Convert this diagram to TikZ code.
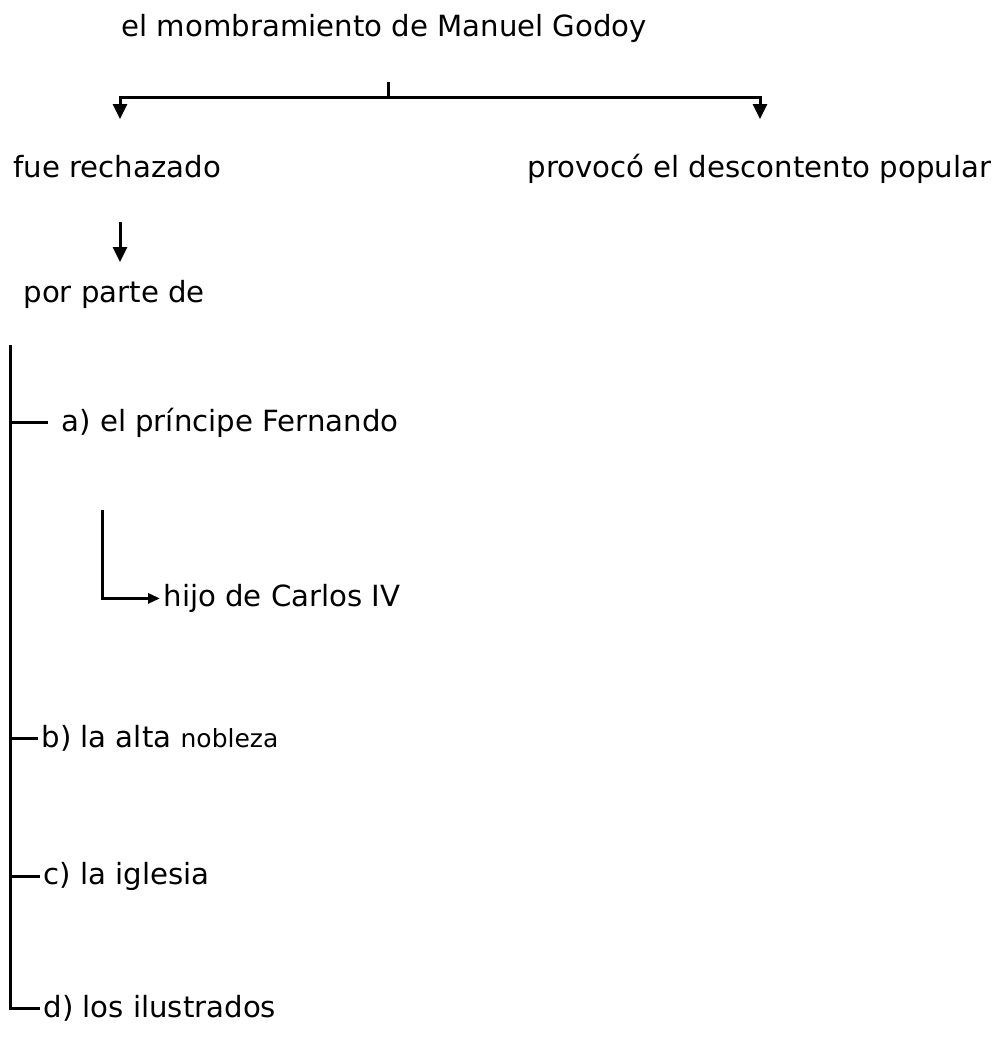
\documentclass[tikz,border=0pt]{standalone}
\usepackage{fontspec}
\setmainfont{DejaVu Sans}
\usetikzlibrary{arrows.meta}

\begin{document}
\begin{tikzpicture}[x=0.5pt,y=-0.5pt,line width=1.5pt,
  txt/.style={anchor=mid west,inner sep=1pt,font=\fontsize{14.6}{17}\selectfont},
  arr/.style={-{Triangle[length=7.5pt,width=7pt]}},
  smallarr/.style={-{Triangle[length=6pt,width=5pt]}}]
\useasboundingbox (0,0) rectangle (999,1045);
\node[txt] (godoy) at (118,31) {el mombramiento de Manuel Godoy};
\node[txt] (rech) at (10,172) {fue rechazado};
\node[txt] (desc) at (524,172) {provocó el descontento popular};
\node[txt] (parte) at (20,297) {por parte de};
\node[txt] (fern) at (58,426) {a) el príncipe Fernando};
\node[txt] (hijo) at (160,601) {hijo de Carlos IV};
\node[txt] (nob) at (38,742) {b) la alta {\fontsize{12.5}{14}\selectfont nobleza}};
\node[txt] (igl) at (40,879) {c) la iglesia};
\node[txt] (ilus) at (40,1012) {d) los ilustrados};
\coordinate (tick) at (388,82);
\coordinate (fork) at (388,97);
\coordinate (left) at (120,119);
\coordinate (right) at (760,119);
\coordinate (down1) at (120,222);
\coordinate (down2) at (120,262);
\coordinate (trunk) at (10,345);
\coordinate (sub) at (102,510);
\draw (tick) -- (fork);
\draw[arr] (fork) -| (left);
\draw[arr] (fork) -| (right);
\draw[arr] (down1) -- (down2);
\draw (trunk) |- (ilus.west);
\draw[shorten >=5pt] (trunk |- fern.west) -- (fern.west);
\draw (trunk |- nob.west) -- (nob.west);
\draw (trunk |- igl.west) -- (igl.west);
\draw[smallarr] (sub) |- (hijo.west);
\end{tikzpicture}
\end{document}
